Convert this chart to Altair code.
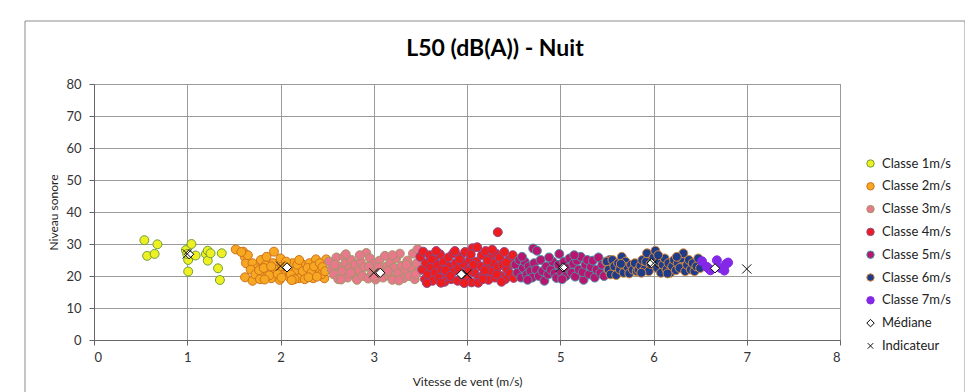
import altair as alt
import pandas as pd

chart_title = "L50 (dB(A)) - Nuit"
series_names = ["Classe 1m/s", "Classe 2m/s", "Classe 3m/s", "Classe 4m/s",
                "Classe 5m/s", "Classe 6m/s", "Classe 7m/s", "Médiane", "Indicateur"]
fill_colors = ["#EEF022", "#F7A823", "#E8788C", "#EE1C1C", "#B8166E", "#1F3C88", "#8428E8", "#FFFFFF", "transparent"]
stroke_colors = ["#6E9E3C", "#D0701A", "#A09868", "#8A4A8C", "#4A90A8", "#D98A3C", "#8428E8", "#000000", "#111111"]
X_PATH = "M-0.75,-0.75L0.75,0.75M-0.75,0.75L0.75,-0.75"
shapes = ["circle"] * 7 + ["diamond", X_PATH]

classe1 = [(0.54, 31.2), (0.57, 26.3), (0.68, 29.9), (0.65, 26.9), (0.985, 28.1), (1.01, 25.0),
           (1.01, 21.4), (1.045, 30.0), (1.09, 26.4), (1.2, 26.9), (1.22, 27.9), (1.22, 24.8),
           (1.25, 27.1), (1.33, 22.4), (1.35, 18.75), (1.37, 27.1), (1.0, 26.9)]
classe2 = [(1.52, 28.3), (1.6, 27.6), (1.62, 25.8), (1.63, 24.0), (1.62, 19.6), (1.7, 18.5), (1.7, 24.0),
           (1.75, 22.4), (1.79, 25.0), (1.8, 19.8), (1.84, 23.4), (1.86, 21.3), (1.9, 19.3), (1.93, 27.6),
           (1.92, 24.0), (1.99, 18.8), (2.0, 25.5), (2.04, 21.3), (2.09, 19.8), (2.13, 24.0), (2.17, 21.9),
           (2.2, 19.3), (2.22, 24.0), (2.27, 20.8), (2.31, 24.0), (2.35, 19.3), (2.38, 25.2), (2.4, 21.9),
           (2.47, 19.3), (2.49, 25.2), (1.68, 22.0), (1.73, 20.5), (1.77, 21.8), (1.82, 22.5), (1.85, 26.0),
           (1.88, 20.2), (1.95, 22.0), (1.97, 20.6), (2.02, 23.0), (2.06, 24.5), (2.08, 22.0), (2.11, 20.5),
           (2.15, 19.0), (2.18, 23.5), (2.24, 21.5), (2.26, 19.0), (2.29, 22.5), (2.33, 21.0), (2.36, 23.0),
           (2.42, 24.0), (2.44, 20.5), (2.45, 22.8), (2.48, 21.5), (1.65, 26.5), (1.58, 27.5), (1.78, 19.0),
           (1.83, 18.9), (2.01, 19.5), (2.12, 18.7), (2.3, 19.6), (1.9, 23.0), (2.2, 25.0), (2.39, 19.8)]
classe3 = [(2.52, 24.5), (2.55, 22.0), (2.57, 20.5), (2.6, 25.8), (2.62, 19.0), (2.63, 23.0), (2.66, 21.5),
           (2.68, 26.0), (2.7, 24.0), (2.72, 19.5), (2.74, 22.5), (2.76, 25.0), (2.78, 20.5), (2.8, 23.5),
           (2.82, 18.8), (2.84, 21.8), (2.86, 24.5), (2.88, 20.0), (2.9, 22.8), (2.92, 27.2), (2.94, 19.2),
           (2.96, 25.5), (2.98, 21.0), (3.0, 23.8), (3.02, 18.9), (3.04, 20.8), (3.06, 24.8), (3.08, 22.0),
           (3.1, 19.5), (3.12, 26.3), (3.14, 23.0), (3.16, 20.2), (3.18, 24.2), (3.2, 18.8), (3.22, 22.5),
           (3.24, 25.5), (3.26, 20.8), (3.28, 27.0), (3.3, 23.2), (3.32, 19.3), (3.34, 21.8), (3.36, 24.8),
           (3.38, 20.0), (3.4, 22.8), (3.42, 27.0), (3.44, 19.0), (3.46, 24.0), (3.47, 28.4), (3.48, 21.5),
           (2.65, 18.9), (2.85, 26.5), (3.0, 19.8), (3.15, 21.5), (3.27, 18.6), (2.58, 23.5), (2.75, 21.0),
           (2.95, 23.0), (3.05, 22.8), (3.35, 23.5), (3.45, 20.5), (2.7, 26.8), (3.2, 26.5)]
classe4 = [(3.5, 26.0), (3.52, 22.0), (3.53, 27.6), (3.55, 19.0), (3.56, 24.0), (3.58, 20.5), (3.6, 26.5),
           (3.61, 22.8), (3.63, 18.5), (3.65, 25.0), (3.66, 21.0), (3.68, 23.5), (3.7, 19.5), (3.71, 26.8),
           (3.73, 22.0), (3.75, 24.5), (3.76, 18.2), (3.78, 20.8), (3.8, 25.8), (3.81, 23.0), (3.83, 19.0),
           (3.85, 27.0), (3.86, 21.5), (3.88, 24.0), (3.9, 18.5), (3.91, 22.5), (3.93, 26.0), (3.95, 20.0),
           (3.96, 23.8), (3.98, 27.5), (4.0, 19.2), (4.01, 22.0), (4.03, 25.0), (4.05, 18.0), (4.06, 28.7),
           (4.08, 21.0), (4.1, 24.5), (4.11, 29.0), (4.13, 19.5), (4.15, 23.0), (4.16, 26.5), (4.18, 20.5),
           (4.2, 27.8), (4.21, 22.5), (4.23, 18.8), (4.25, 25.5), (4.26, 21.5), (4.28, 24.0), (4.3, 19.5),
           (4.31, 27.0), (4.33, 33.7), (4.33, 22.8), (4.35, 25.8), (4.36, 20.0), (4.38, 23.5), (4.4, 27.5),
           (4.41, 19.0), (4.43, 22.0), (4.45, 25.0), (4.46, 20.8), (4.48, 23.8), (4.49, 26.5), (4.5, 19.4),
           (3.57, 17.8), (3.72, 17.9), (3.87, 27.8), (3.97, 17.8), (4.02, 21.5), (4.12, 17.9), (4.22, 24.8),
           (4.37, 18.2), (3.62, 25.2), (3.77, 21.8), (3.92, 25.2), (4.07, 23.5), (4.17, 19.0), (4.27, 28.2),
           (4.42, 24.2), (3.67, 27.8), (3.82, 20.0), (4.04, 26.8), (4.19, 21.8), (4.32, 20.5)]
classe5 = [(4.52, 23.5), (4.54, 21.0), (4.56, 25.0), (4.58, 19.5), (4.6, 22.5), (4.62, 24.5), (4.64, 20.5),
           (4.66, 23.0), (4.68, 21.5), (4.71, 28.6), (4.75, 27.9), (4.7, 19.5), (4.72, 24.0), (4.74, 22.0),
           (4.77, 20.0), (4.79, 25.0), (4.81, 21.5), (4.83, 18.5), (4.85, 23.0), (4.87, 20.5), (4.9, 22.0),
           (4.92, 24.5), (4.94, 20.8), (4.96, 19.4), (4.98, 23.5), (4.99, 26.9), (5.01, 21.0), (5.04, 24.5),
           (5.06, 20.0), (5.08, 22.5), (5.1, 25.5), (5.12, 21.0), (5.14, 23.8), (5.16, 19.8), (5.18, 24.8),
           (5.2, 22.0), (5.22, 26.0), (5.25, 18.8), (5.24, 21.2), (5.27, 23.5), (5.29, 25.0), (5.31, 20.5),
           (5.33, 22.8), (5.35, 24.8), (5.37, 19.5), (5.39, 22.0), (5.41, 25.8), (5.43, 21.0), (5.45, 23.5),
           (5.47, 20.0), (5.49, 24.5), (5.51, 22.0), (5.53, 25.0), (4.59, 26.0), (4.88, 25.8), (5.15, 26.5),
           (5.02, 19.0), (4.65, 18.8)]
classe6 = [(5.5, 24.5), (5.52, 22.0), (5.54, 20.5), (5.56, 25.0), (5.58, 23.0), (5.6, 20.3), (5.62, 24.0),
           (5.64, 22.0), (5.66, 26.0), (5.68, 21.0), (5.7, 24.5), (5.72, 22.8), (5.74, 20.8), (5.76, 23.5),
           (5.78, 22.0), (5.8, 24.0), (5.82, 21.5), (5.84, 21.9), (5.86, 23.2), (5.88, 25.0), (5.9, 22.0),
           (5.92, 24.5), (5.93, 27.1), (5.95, 21.5), (5.97, 23.8), (6.0, 25.8), (6.02, 27.9), (6.04, 22.5),
           (6.06, 24.5), (6.08, 21.0), (6.1, 23.5), (6.12, 25.5), (6.14, 22.0), (6.16, 24.0), (6.18, 21.0),
           (6.2, 23.0), (6.22, 25.0), (6.24, 21.8), (6.26, 24.0), (6.28, 22.5), (6.3, 25.5), (6.32, 27.1),
           (6.34, 21.5), (6.36, 23.5), (6.38, 25.0), (6.4, 22.0), (6.42, 24.0), (6.44, 21.5), (6.46, 23.0),
           (6.48, 25.5), (6.5, 22.5), (5.65, 23.8), (5.87, 21.0), (6.05, 26.5), (6.25, 26.0), (6.15, 20.8)]
classe7 = [(6.52, 24.6), (6.57, 22.9), (6.59, 22.4), (6.61, 21.8), (6.68, 24.9), (6.72, 22.5),
           (6.76, 21.7), (6.78, 23.8), (6.8, 24.2)]
median_x = [1.02, 2.07, 3.07, 3.94, 5.03, 5.98, 6.66]
median_y = [26.8, 22.7, 21.0, 20.5, 22.7, 24.0, 22.4]
indic_x = [1, 2, 3, 4, 5, 6, 7]
indic_y = [26.9, 23.1, 21.0, 20.6, 22.7, 24.0, 22.2]

rows = []
for name, pts in zip(series_names[:7], [classe1, classe2, classe3, classe4, classe5, classe6, classe7]):
    for vx, vy in pts:
        rows.append({"vent": vx, "niveau": vy, "serie": name, "sz": 80})
for vx, vy in zip(median_x, median_y):
    rows.append({"vent": vx, "niveau": vy, "serie": "Médiane", "sz": 85})
for vx, vy in zip(indic_x, indic_y):
    rows.append({"vent": vx, "niveau": vy, "serie": "Indicateur", "sz": 150})
df = pd.DataFrame(rows)

FONT = "Lato"

frame = alt.Chart(pd.DataFrame({"a": [0]})).mark_rect(
    fillOpacity=0, stroke="#8c8c8c", strokeWidth=1
).encode(
    x=alt.value(-69), x2=alt.value(871), y=alt.value(-63), y2=alt.value(330)
)

title_mark = alt.Chart(pd.DataFrame({"t": [chart_title]})).mark_text(
    font=FONT, fontSize=23, fontWeight="bold", color="#000000", align="center", baseline="alphabetic"
).encode(
    text="t:N", x=alt.value(401), y=alt.value(-28)
)

points = alt.Chart(df).mark_point(filled=True, opacity=1, strokeWidth=1).encode(
    x=alt.X("vent:Q", title="Vitesse de vent (m/s)",
            scale=alt.Scale(domain=[0, 8], nice=False),
            axis=alt.Axis(values=[0, 1, 2, 3, 4, 5, 6, 7, 8], format="d")),
    y=alt.Y("niveau:Q", title="Niveau sonore",
            scale=alt.Scale(domain=[0, 80], nice=False),
            axis=alt.Axis(values=[0, 10, 20, 30, 40, 50, 60, 70, 80])),
    fill=alt.Fill("serie:N", scale=alt.Scale(domain=series_names, range=fill_colors), title=None),
    stroke=alt.Stroke("serie:N", scale=alt.Scale(domain=series_names, range=stroke_colors), title=None),
    shape=alt.Shape("serie:N", scale=alt.Scale(domain=series_names, range=shapes), title=None),
    size=alt.Size("sz:Q", scale=None, legend=None),
)

chart = alt.layer(frame, title_mark, points).properties(
    width=746, height=256,
    autosize=alt.AutoSizeParams(type="none"),
    padding={"left": 86, "top": 76, "right": 125, "bottom": 52},
).configure_view(
    stroke="#8c8c8c"
).configure_axis(
    labelFont=FONT, labelFontSize=13, labelColor="#333333",
    titleFont=FONT, titleFontSize=12, titleColor="#222222", titleFontWeight="normal",
    gridColor="#9a9a9a", gridWidth=1, domainColor="#666666", tickColor="#666666",
    tickSize=5,
).configure_axisY(
    labelPadding=8, titlePadding=5,
).configure_axisX(
    labelPadding=6, titlePadding=12,
).configure_legend(
    orient="none", legendX=770, legendY=73,
    labelFont=FONT, labelFontSize=13, labelColor="#222222",
    symbolSize=55, symbolStrokeWidth=1, rowPadding=8.8, labelOffset=5,
)

chart.save("out.html", embed_options={"renderer": "svg", "actions": False})
